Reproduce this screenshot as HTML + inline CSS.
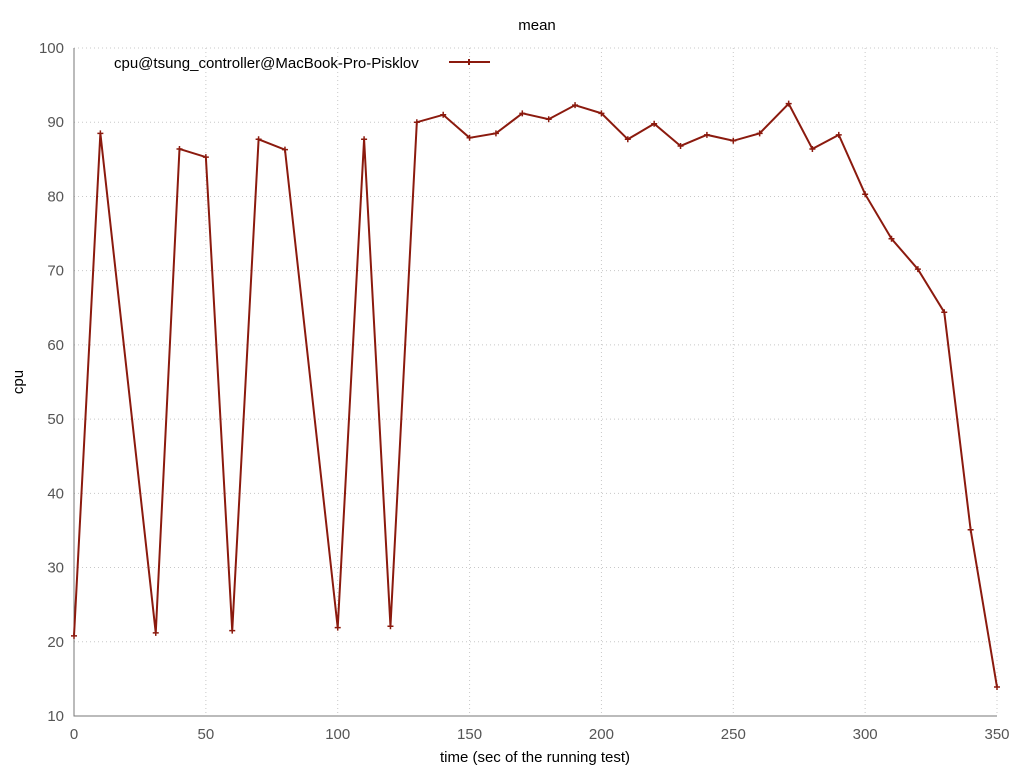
<!DOCTYPE html>
<html><head><meta charset="utf-8"><style>
body{margin:0;background:#fff;}
svg{display:block;font-family:"Liberation Sans",sans-serif;}
</style></head><body>
<svg id="chart" width="1024" height="768"></svg>
<script>
const xs=[0,10,31,40,50,60,70,80,100,110,120,130,140,150,160,170,180,190,200,210,220,230,240,250,260,271,280,290,300,310,320,330,340,350];
const ys=[20.8,88.5,21.2,86.4,85.3,21.5,87.7,86.3,21.9,87.7,22.1,90.0,91.0,87.9,88.5,91.2,90.4,92.3,91.2,87.7,89.8,86.8,88.3,87.5,88.5,92.5,86.4,88.3,80.3,74.3,70.2,64.4,35.1,13.9];
const xTicks=[0,50,100,150,200,250,300,350];
const yTicks=[10,20,30,40,50,60,70,80,90,100];
const X0=74,X1=997,Y0=716,Y1=48;
function sx(v){return X0+(v-0)/350*(X1-X0);}
function sy(v){return Y0-(v-10)/90*(Y0-Y1);}
const svg=document.getElementById('chart');const NS='http://www.w3.org/2000/svg';
function mk(t,a,txt){const e=document.createElementNS(NS,t);for(const k in a)e.setAttribute(k,a[k]);if(txt!=null)e.textContent=txt;svg.appendChild(e);return e;}
xTicks.forEach(v=>{
 const g=mk('line',{x1:sx(v),x2:sx(v),y1:Y1,y2:Y0,stroke:'#c8c8c8','stroke-dasharray':'1,3'});
 
 
 const t=mk('text',{x:sx(v),y:Y0+23,'text-anchor':'middle','font-size':15,fill:'#555'},v);
 
 
});
yTicks.forEach(v=>{
 const g=mk('line',{x1:X0,x2:X1,y1:sy(v),y2:sy(v),stroke:'#c8c8c8','stroke-dasharray':'1,3'});
 
 
 const t=mk('text',{x:X0-10,y:sy(v)+5,'text-anchor':'end','font-size':15,fill:'#555'},v);
 
 
});
const ax=mk('path',{d:`M${X0},${Y1}V${Y0}H${X1}`,stroke:'#777',fill:'none','stroke-width':1});


const pts=xs.map((x,i)=>sx(x)+','+sy(ys[i])).join(' ');
const ln=mk('polyline',{points:pts,fill:'none',stroke:'#8b1a0e','stroke-width':2});


xs.forEach((x,i)=>{
 const cx=sx(x),cy=sy(ys[i]);
 const p=mk('path',{d:`M${cx-3},${cy}H${cx+3}M${cx},${cy-3}V${cy+3}`,stroke:'#8b1a0e','stroke-width':1.5});
 
 
});
const title=mk('text',{x:537,y:30,'text-anchor':'middle','font-size':15,fill:'#000'},'mean');


const xt=mk('text',{x:535,y:762,'text-anchor':'middle','font-size':15,fill:'#000'},'time (sec of the running test)');


const yt=mk('text',{x:23,y:382,'text-anchor':'middle','font-size':15,fill:'#000',transform:'rotate(-90 23 382)'},'cpu');


const lt=mk('text',{x:114,y:68,'font-size':15,fill:'#000'},'cpu@tsung_controller@MacBook-Pro-Pisklov');


const ll=mk('path',{d:'M449,62H490M469,59V65M466,62H472',stroke:'#8b1a0e','stroke-width':2,fill:'none'});


</script>
</body></html>
